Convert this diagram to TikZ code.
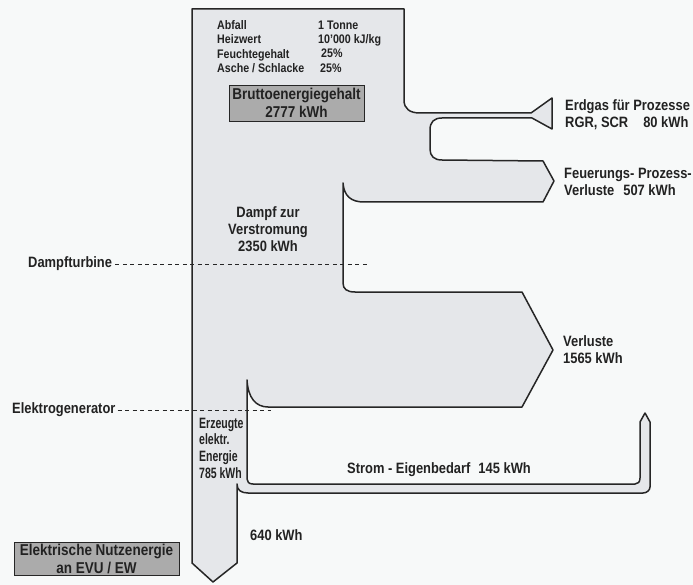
\documentclass[tikz,border=0pt]{standalone}
\usepackage{fontspec}
\setmainfont{Liberation Sans}[BoldFeatures={FakeStretch=0.86}]
\newfontfamily\narrowfont{Liberation Sans Bold}[FakeStretch=0.7]
\definecolor{bg}{HTML}{F7F9F9}
\definecolor{flow}{HTML}{E5E7EA}
\definecolor{boxgray}{HTML}{ABABAB}
\definecolor{ln}{HTML}{262626}
\definecolor{txt}{HTML}{222222}
\tikzset{
  lbl/.style={font=\bfseries\fontsize{15}{17}\selectfont, anchor=west, inner sep=0pt, text=txt, align=left},
  info/.style={font=\bfseries\fontsize{12.4}{14.4}\selectfont, anchor=west, inner sep=0pt, text=txt, align=left},
  graybox/.style={draw=ln, line width=0.9pt, fill=boxgray, inner sep=0pt, align=center, text=txt,
                  font=\bfseries\fontsize{15.7}{18}\selectfont},
  flowline/.style={draw=ln, line width=1.5pt, fill=flow, line join=round},
  dashline/.style={draw=ln, line width=0.8pt, dash pattern=on 4pt off 3.5pt}
}
\begin{document}
\begin{tikzpicture}[x=1pt,y=-1pt]
\path[fill=bg] (0,0) rectangle (693,585);
\useasboundingbox (0,0) rectangle (693,585);

% main flow shape
\path[flowline] (192,9) -- (404,9) -- (404,100)
  .. controls (404,109) and (410,113) .. (420,113) -- (531,113)
  -- (552,98) -- (552,129) -- (532,118) -- (442,118)
  .. controls (434,118) and (430,122) .. (430,130) -- (430,149)
  .. controls (430,156) and (434,160) .. (442,160) -- (543,161)
  -- (554,181) -- (543,202) -- (364,202)
  .. controls (351,202) and (344,196) .. (343,183) -- (343,283)
  .. controls (343,289) and (347,292) .. (355,292) -- (522,292)
  -- (553,350) -- (522,407) -- (268,407)
  .. controls (256,407) and (248,398) .. (247,380) -- (247,479)
  .. controls (247,482) and (249,484) .. (253,484) -- (635,484)
  .. controls (638,484) and (640,482) .. (640,478) -- (640,422)
  -- (645,413) -- (650,422) -- (650,487)
  .. controls (650,490) and (647,493) .. (643,493) -- (248,493)
  .. controls (241,493) and (237,490) .. (237,484) -- (237,563)
  -- (213,582) -- (192,563) -- cycle;

% input info
\node[info] (infoL) at (217,46.5) {Abfall\\Heizwert\\Feuchtegehalt\\Asche / Schlacke};
\node[info] (infoR) at (318,46.5) {1 Tonne\\10'000 kJ/kg\\\hspace*{3pt}25\%\\\hspace*{2pt}25\%};
\node[graybox, minimum width=135pt, minimum height=36pt] (brutto) at (296.5,103) {Bruttoenergiegehalt\\2777 kWh};

% outputs
\node[lbl] (erdgas) at (565,115) {Erdgas für Prozesse\\RGR, SCR\hspace{15pt}80 kWh};
\node[lbl] (feuer) at (564,181.5) {Feuerungs- Prozess-\\Verluste\hspace{9pt}507 kWh};
\node[lbl, anchor=center, align=center] (dampf) at (268,229.5) {Dampf zur\\Verstromung\\2350 kWh};
\node[lbl] (verl) at (563,350) {Verluste\\1565 kWh};
\node[lbl, font=\narrowfont\fontsize{15}{16.7}\selectfont] (erz) at (199,448) {Erzeugte\\elektr.\\Energie\\785 kWh};
\node[lbl] (strom) at (347,470) {Strom - Eigenbedarf\hspace{8pt}145 kWh};
\node[lbl] (k640) at (250,535) {640 kWh};
\node[graybox, minimum width=165pt, minimum height=33pt] (nutz) at (96.5,558.5) {Elektrische Nutzenergie\\an EVU / EW};

% machine markers
\node[lbl] (turb) at (28,264) {Dampfturbine};
\node[lbl] (gen) at (12,410) {Elektrogenerator};
\coordinate (turbend) at (367,264);
\coordinate (genend) at (271,410);
\draw[dashline] ([xshift=3pt]turb.east) -- (turbend);
\draw[dashline] ([xshift=2pt]gen.east) -- (genend);
\end{tikzpicture}
\end{document}
